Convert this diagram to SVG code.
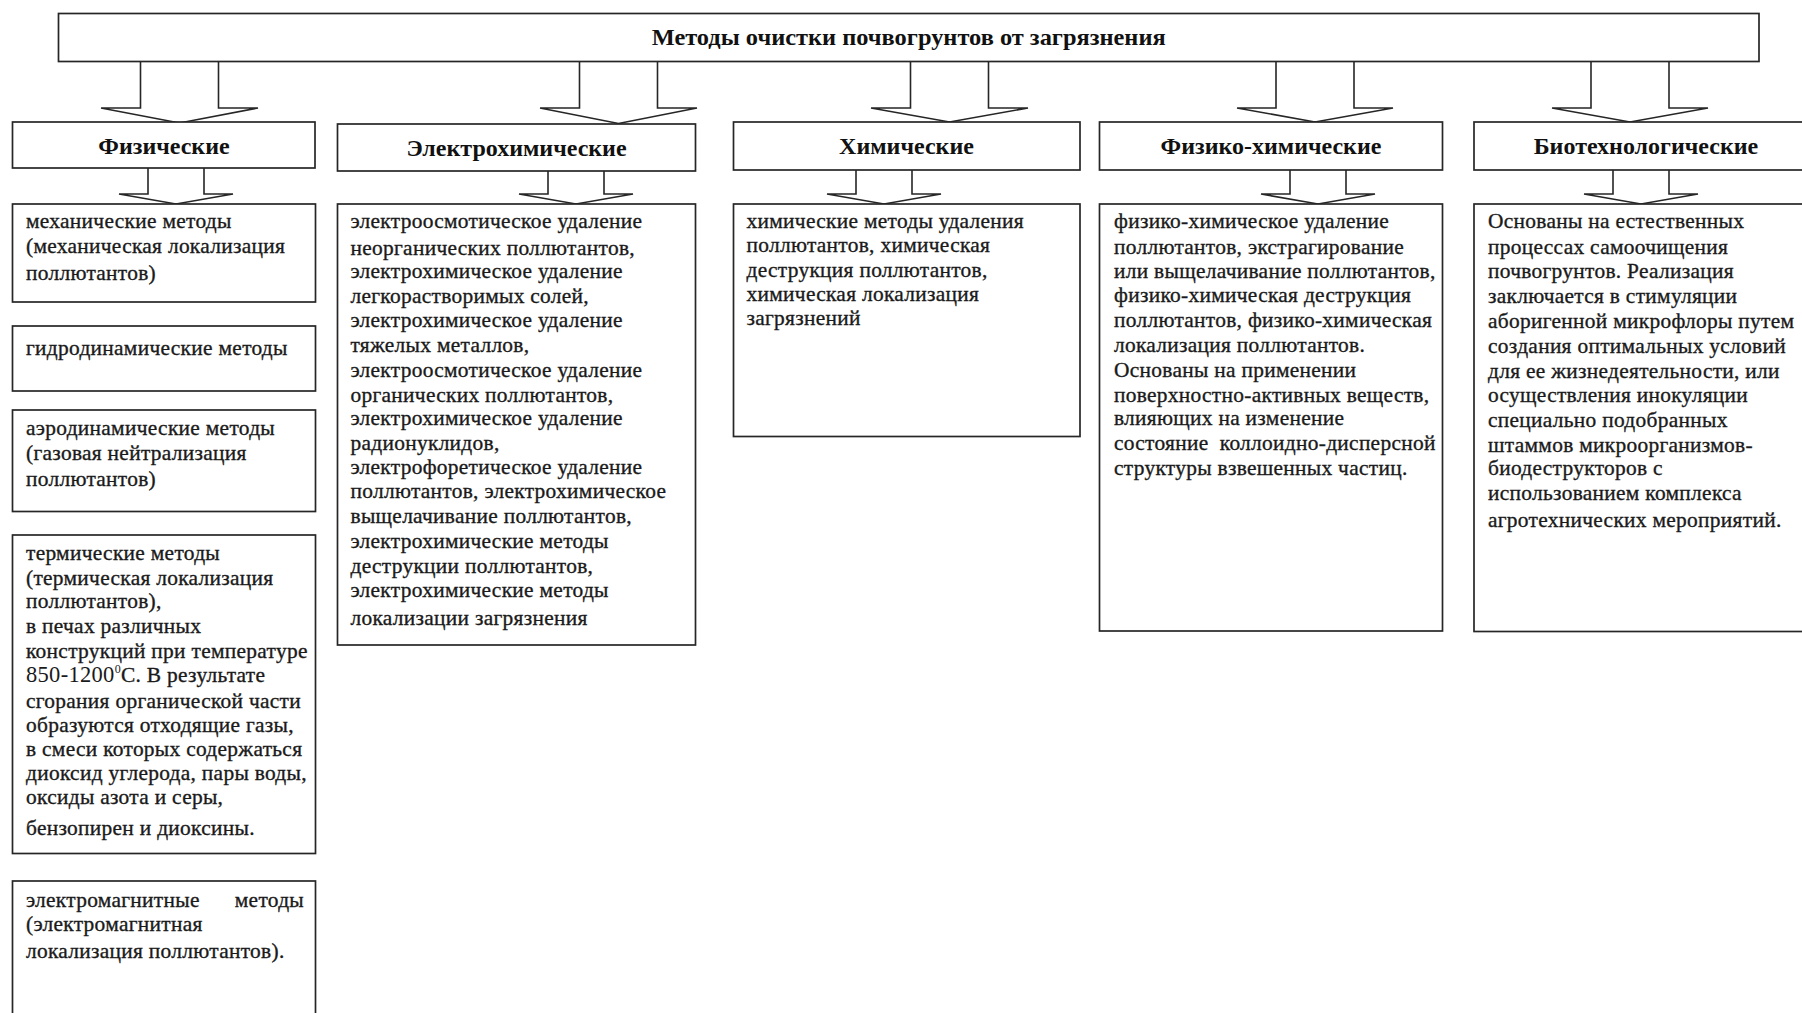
<svg xmlns="http://www.w3.org/2000/svg" width="1802" height="1013" viewBox="0 0 1802 1013">
<style>
.box{fill:#fff;stroke:#262626;stroke-width:1.7}
.arr{fill:#fff;stroke:#262626;stroke-width:1.6;stroke-linejoin:miter}
.t{font-family:"Liberation Serif","Times New Roman",serif;font-size:21.4px;letter-spacing:0.3px;fill:#1a1a1a;stroke:#1a1a1a;stroke-width:0.35}
.h{font-family:"Liberation Serif","Times New Roman",serif;font-weight:bold;font-size:24px;fill:#111;text-anchor:middle}
.ttl{font-family:"Liberation Serif","Times New Roman",serif;font-weight:bold;font-size:23px;fill:#111;text-anchor:middle}
</style>
<rect width="1802" height="1013" fill="#fff"/>
<g id="connectors">
<path class="arr" d="M140.5,61.5 V108 H101 L179.5,123 L258,108 H218.5 V61.5"/>
<path class="arr" d="M579.5,61.5 V108 H540 L618.5,123.5 L697,108 H657.5 V61.5"/>
<path class="arr" d="M910.5,61.5 V108 H871 L949.5,122 L1028,108 H988.5 V61.5"/>
<path class="arr" d="M1276,61.5 V108 H1237 L1315,122 L1393,108 H1354 V61.5"/>
<path class="arr" d="M1591,61.5 V108 H1552 L1630,122 L1708,108 H1669 V61.5"/>
<path class="arr" d="M148,168 V194 H119 L176,204 L233,194 H204 V168"/>
<path class="arr" d="M548,171 V194 H519 L576,204 L633,194 H604 V171"/>
<path class="arr" d="M856,170 V194 H827 L884,204 L941,194 H912 V170"/>
<path class="arr" d="M1290,170 V194 H1261 L1318,204 L1375,194 H1346 V170"/>
<path class="arr" d="M1613,170 V194 H1584 L1641,204 L1698,194 H1669 V170"/>
</g>
<g id="title">
<rect class="box" x="58.5" y="13.5" width="1700.5" height="48"/>
<text class="ttl" x="908.7" y="45" textLength="514" lengthAdjust="spacingAndGlyphs">Методы очистки почвогрунтов от загрязнения</text>
</g>
<g id="cat-physical">
<rect class="box" x="12.5" y="122" width="302.5" height="46"/>
<text class="h" x="164" y="153.5">Физические</text>
</g>
<g id="cat-electrochemical">
<rect class="box" x="337.5" y="124" width="358" height="47"/>
<text class="h" x="516.5" y="155.5">Электрохимические</text>
</g>
<g id="cat-chemical">
<rect class="box" x="733.5" y="122" width="346.5" height="48"/>
<text class="h" x="906.5" y="154">Химические</text>
</g>
<g id="cat-physchem">
<rect class="box" x="1099.5" y="122" width="343" height="48"/>
<text class="h" x="1271" y="154">Физико-химические</text>
</g>
<g id="cat-biotech">
<rect class="box" x="1474" y="122" width="340" height="48"/>
<text class="h" x="1646" y="154">Биотехнологические</text>
</g>
<g id="phys-mech">
<rect class="box" x="12.5" y="204" width="303" height="98"/>
<text class="t" x="26" y="228">механические методы</text>
<text class="t" x="26" y="253">(механическая локализация</text>
<text class="t" x="26" y="279.5">поллютантов)</text>
</g>
<g id="phys-hydro">
<rect class="box" x="12.5" y="326" width="303" height="65"/>
<text class="t" x="26" y="354.5">гидродинамические методы</text>
</g>
<g id="phys-aero">
<rect class="box" x="12.5" y="410" width="303" height="101.5"/>
<text class="t" x="26" y="434.5">аэродинамические методы</text>
<text class="t" x="26" y="459.5">(газовая нейтрализация</text>
<text class="t" x="26" y="486">поллютантов)</text>
</g>
<g id="phys-thermal">
<rect class="box" x="12.5" y="535" width="303" height="318.5"/>
<text class="t" x="26" y="559.5">термические методы</text>
<text class="t" x="26" y="584.5">(термическая локализация</text>
<text class="t" x="26" y="608">поллютантов),</text>
<text class="t" x="26" y="633">в печах различных</text>
<text class="t" x="26" y="657.5">конструкций при температуре</text>
<text class="t" x="26" y="681.5"><tspan font-size="22.5" stroke-width="0">850-1200</tspan><tspan font-size="12" dy="-9" stroke-width="0">0</tspan><tspan dy="9">С. В результате</tspan></text>
<text class="t" x="26" y="707.5">сгорания органической части</text>
<text class="t" x="26" y="731.5">образуются отходящие газы,</text>
<text class="t" x="26" y="755.5">в смеси которых содержаться</text>
<text class="t" x="26" y="779.5">диоксид углерода, пары воды,</text>
<text class="t" x="26" y="804">оксиды азота и серы,</text>
<text class="t" x="26" y="834.5">бензопирен и диоксины.</text>
</g>
<g id="phys-electromag">
<rect class="box" x="12.5" y="881" width="303" height="150"/>
<text class="t" x="26" y="906.5">электромагнитные</text>
<text class="t" x="304" y="906.5" text-anchor="end">методы</text>
<text class="t" x="26" y="930.5">(электромагнитная</text>
<text class="t" x="26" y="958">локализация поллютантов).</text>
</g>
<g id="electrochem-list">
<rect class="box" x="337.5" y="204" width="358" height="441"/>
<text class="t" x="350.5" y="228">электроосмотическое удаление</text>
<text class="t" x="350.5" y="254.5">неорганических поллютантов,</text>
<text class="t" x="350.5" y="278">электрохимическое удаление</text>
<text class="t" x="350.5" y="303">легкорастворимых солей,</text>
<text class="t" x="350.5" y="326.5">электрохимическое удаление</text>
<text class="t" x="350.5" y="351.5">тяжелых металлов,</text>
<text class="t" x="350.5" y="376.5">электроосмотическое удаление</text>
<text class="t" x="350.5" y="401.5">органических поллютантов,</text>
<text class="t" x="350.5" y="424.5">электрохимическое удаление</text>
<text class="t" x="350.5" y="449.5">радионуклидов,</text>
<text class="t" x="350.5" y="474">электрофоретическое удаление</text>
<text class="t" x="350.5" y="498">поллютантов, электрохимическое</text>
<text class="t" x="350.5" y="523">выщелачивание поллютантов,</text>
<text class="t" x="350.5" y="548">электрохимические методы</text>
<text class="t" x="350.5" y="573">деструкции поллютантов,</text>
<text class="t" x="350.5" y="596.5">электрохимические методы</text>
<text class="t" x="350.5" y="624.5">локализации загрязнения</text>
</g>
<g id="chem-list">
<rect class="box" x="733.5" y="204" width="346.5" height="232.5"/>
<text class="t" x="746.5" y="228">химические методы удаления</text>
<text class="t" x="746.5" y="252">поллютантов, химическая</text>
<text class="t" x="746.5" y="276.5">деструкция поллютантов,</text>
<text class="t" x="746.5" y="300.5">химическая локализация</text>
<text class="t" x="746.5" y="324.5">загрязнений</text>
</g>
<g id="physchem-list">
<rect class="box" x="1099.5" y="204" width="343" height="427"/>
<text class="t" x="1114" y="228">физико-химическое удаление</text>
<text class="t" x="1114" y="254">поллютантов, экстрагирование</text>
<text class="t" x="1114" y="278">или выщелачивание поллютантов,</text>
<text class="t" x="1114" y="302">физико-химическая деструкция</text>
<text class="t" x="1114" y="326.5">поллютантов, физико-химическая</text>
<text class="t" x="1114" y="351.5">локализация поллютантов.</text>
<text class="t" x="1114" y="376.5">Основаны на применении</text>
<text class="t" x="1114" y="401.5">поверхностно-активных веществ,</text>
<text class="t" x="1114" y="424.5">влияющих на изменение</text>
<text class="t" x="1114" y="449.5" xml:space="preserve">состояние  коллоидно-дисперсной</text>
<text class="t" x="1114" y="474.5">структуры взвешенных частиц.</text>
</g>
<g id="biotech-list">
<rect class="box" x="1474" y="204" width="340" height="427.5"/>
<text class="t" x="1488" y="228">Основаны на естественных</text>
<text class="t" x="1488" y="254">процессах самоочищения</text>
<text class="t" x="1488" y="278">почвогрунтов. Реализация</text>
<text class="t" x="1488" y="303">заключается в стимуляции</text>
<text class="t" x="1488" y="328">аборигенной микрофлоры путем</text>
<text class="t" x="1488" y="353">создания оптимальных условий</text>
<text class="t" x="1488" y="377.5">для ее жизнедеятельности, или</text>
<text class="t" x="1488" y="401.5">осуществления инокуляции</text>
<text class="t" x="1488" y="426.5">специально подобранных</text>
<text class="t" x="1488" y="451.5">штаммов микроорганизмов-</text>
<text class="t" x="1488" y="474.5">биодеструкторов с</text>
<text class="t" x="1488" y="499.5">использованием комплекса</text>
<text class="t" x="1488" y="526.5">агротехнических мероприятий.</text>
</g>
</svg>
